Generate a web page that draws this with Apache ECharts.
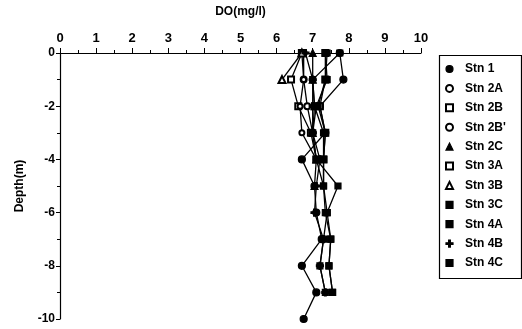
<!DOCTYPE html>
<html><head><meta charset="utf-8">
<script src="https://cdn.jsdelivr.net/npm/echarts@6/dist/echarts.min.js"></script>
<style>html,body{margin:0;padding:0;background:#fff}#c{width:522px;height:329px}</style>
</head><body><div id="c"></div>
<script>
var depths = [0, -1, -2, -3, -4, -5, -6, -7, -8, -9, -10];
var stationNames = ['Stn 1','Stn 2A','Stn 2B',"Stn 2B'",'Stn 2C','Stn 3A','Stn 3B','Stn 3C','Stn 4A','Stn 4B','Stn 4C'];
var stn1  = [7.75, 7.85, 7.2, 7.35, 6.7, 7.05, 7.1, 7.25, 6.7, 7.1, 6.75];
var stn2A = [6.75, 6.75, 6.85, 7.0];
var stn2B = [6.7, 6.4, 6.6, 6.95, 7.1];
var stn2Bp = [6.7, 6.75, 6.65, 6.7, 7.1, 7.3];
var stn2C = [7.0, 7.0, 7.05, 7.0, 7.1, 7.05];
var stn3A = [7.35, 7.35, 7.2, 7.35, 7.3];
var stn3B = [6.7, 6.15];
var stn3C = [7.4, 7.35, 7.15, 7.35, 7.3, 7.3, 7.35, 7.5, 7.45, 7.55];
var stn4A = [7.35, 7.4, 7.1, 7.0, 7.1, 7.7, 7.4, 7.5, 7.45, 7.55];
var stn4B = [6.8, 7.0, 7.0, 7.0, 7.2, 7.1, 7.05, 7.3, 7.2, 7.35];
var stn4C = [7.75, 7.0, 7.05, 7.3, 7.3, 7.3, 7.4, 7.3, 7.2, 7.35];
var xTicks = [0,1,2,3,4,5,6,7,8,9,10];
var yTicks = [0,-2,-4,-6,-8,-10];

var allValues = [stn1, stn2A, stn2B, stn2Bp, stn2C, stn3A, stn3B, stn3C, stn4A, stn4B, stn4C];
var plus = 'path://M3,0H5V3H8V5H5V8H3V5H0V3H3Z';
var symbols = [
  {s:'circle', size:7},
  {s:'emptyCircle', size:6},
  {s:'emptyRect', size:6},
  {s:'emptyCircle', size:5},
  {s:'triangle', size:7},
  {s:'emptyRect', size:6},
  {s:'emptyTriangle', size:7},
  {s:'rect', size:6},
  {s:'rect', size:6},
  {s:plus, size:7},
  {s:'rect', size:6}
];

var series = allValues.map(function(vals, i){
  return {
    name: stationNames[i], type: 'line',
    data: vals.map(function(v, k){ return [v, depths[k]]; }),
    symbol: symbols[i].s, symbolSize: symbols[i].size,
    lineStyle: {color:'#000', width:1.3},
    itemStyle: {color:'#000', borderColor:'#000', borderWidth:1.2},
    emphasis: {disabled:true}, animation:false, z: 3
  };
});

var chart = echarts.init(document.getElementById('c'));
chart.setOption({
  animation:false,
  textStyle:{fontFamily:'Liberation Sans, Arial, sans-serif'},
  grid:{left:60, top:53, right:101, bottom:10, containLabel:false},
  xAxis:{
    type:'value', position:'top', min:xTicks[0], max:xTicks[xTicks.length-1], interval:1,
    name:'DO(mg/l)', nameLocation:'middle', nameGap:35,
    nameTextStyle:{fontSize:12, fontWeight:'bold', color:'#000'},
    axisLine:{show:true, onZero:false, lineStyle:{color:'#000', width:1.2}},
    axisTick:{show:true, length:5, lineStyle:{color:'#000'}},
    minorTick:{show:true, splitNumber:2, length:3, lineStyle:{color:'#000'}},
    axisLabel:{fontSize:13, fontWeight:'bold', color:'#000', margin:8},
    splitLine:{show:false}
  },
  yAxis:{
    type:'value', min:-10, max:0, interval:2,
    name:'Depth(m)', nameLocation:'middle', nameGap:34, nameRotate:90,
    nameTextStyle:{fontSize:12, fontWeight:'bold', color:'#000'},
    axisLine:{show:true, onZero:false, lineStyle:{color:'#000', width:1.2}},
    axisTick:{show:true, length:4, lineStyle:{color:'#000'}},
    minorTick:{show:true, splitNumber:2, length:3, lineStyle:{color:'#000'}},
    axisLabel:{fontSize:12, fontWeight:'bold', color:'#000', margin:5},
    splitLine:{show:false}
  },
  graphic:[{
    type:'rect', left:437, top:53, silent:true,
    shape:{width:82, height:223},
    style:{fill:'none', stroke:'#000', lineWidth:1.2}
  }],
  legend:{
    orient:'vertical', left:437, top:53,
    padding:[9,18,9,8],
    itemWidth:7, itemHeight:7, itemGap:5.4,
    data: stationNames.map(function(n,i){ return {name:n, icon:symbols[i].s}; }),
    itemStyle:{borderColor:'#000', borderWidth:1.2},
    textStyle:{fontSize:12, fontWeight:'bold', color:'#000', lineHeight:14, padding:[0,0,0,7]},
    selectedMode:false
  },
  series: series
});
</script></body></html>
